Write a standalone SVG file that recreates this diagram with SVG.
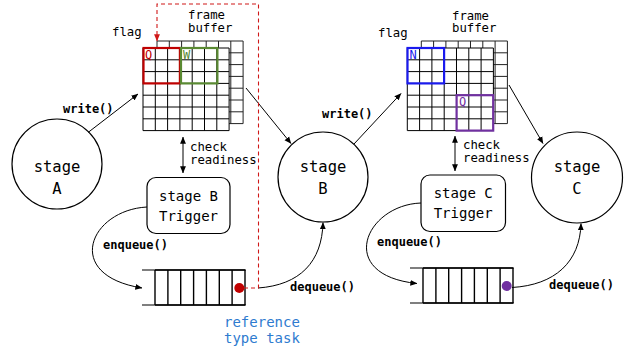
<svg xmlns="http://www.w3.org/2000/svg" xmlns:xlink="http://www.w3.org/1999/xlink" width="627" height="352" viewBox="0 0 627 352">
  <style>
    text { font-family: "DejaVu Sans Mono", "Liberation Mono", monospace; fill: #000; }
    .lbl { font-size: 12.3px; }
    .op { font-size: 12px; font-weight: bold; }
    .big { font-size: 15.5px; }
    .box { font-size: 14px; }
    .ref { font-size: 14px; fill: #2e7bcf; }
    .flagtxt { font-size: 12px; }
    .circ { fill: #fff; stroke: #000; stroke-width: 1.2; }
    .trig { fill: #fff; stroke: #000; stroke-width: 1.2; }
    .grid { fill: #fff; stroke: #000; stroke-width: 1; }
    .gridback { fill: #fff; stroke: #222; stroke-width: 1; }
    .edge { fill: none; stroke: #000; stroke-width: 1; }
    .dash { fill: none; stroke: #d01818; stroke-width: 1.1; stroke-dasharray: 4 3; }
    .qrail { stroke: #555; stroke-width: 1.3; }
    .qcell { stroke: #000; stroke-width: 1.4; fill: none; }
  </style>
  <defs>
    <marker id="ah" viewBox="0 0 10 10" refX="9.5" refY="5" markerWidth="7" markerHeight="7" markerUnits="userSpaceOnUse" orient="auto-start-reverse">
      <path d="M0,0.8 L10,5 L0,9.2 Z" fill="#000"/>
    </marker>
    <marker id="ahr" viewBox="0 0 10 10" refX="9.5" refY="5" markerWidth="7" markerHeight="7" markerUnits="userSpaceOnUse" orient="auto">
      <path d="M0,0.8 L10,5 L0,9.2 Z" fill="#d01818"/>
    </marker>
    <!-- 7x7 frame grid, 12.3 x 11.8 cells -->
    <path id="gridlines" d="M0,0H86.1V82.6H0Z M12.3,0V82.6 M24.6,0V82.6 M36.9,0V82.6 M49.2,0V82.6 M61.5,0V82.6 M73.8,0V82.6 M0,11.8H86.1 M0,23.6H86.1 M0,35.4H86.1 M0,47.2H86.1 M0,59H86.1 M0,70.8H86.1"/>
    <!-- queue with 7 slots -->
    <g id="queue">
      <line class="qrail" x1="0" y1="0" x2="104" y2="0"/>
      <line class="qrail" x1="0" y1="35" x2="104" y2="35"/>
      <path class="qcell" d="M13,0V35 M25.9,0V35 M38.7,0V35 M51.6,0V35 M64.4,0V35 M77.3,0V35 M90.1,0V35 M103,0V35 M13,0H103 M13,35H103"/>
    </g>
  </defs>

  <rect width="627" height="352" fill="#fff"/>

  <!-- frame buffer of stage B -->
  <g id="buffer-b">
    <use xlink:href="#gridlines" class="gridback" transform="translate(157,41)"/>
    <use xlink:href="#gridlines" class="grid" transform="translate(143,48)"/>
    <rect x="143.5" y="48" width="36.4" height="35.4" fill="none" stroke="#c00000" stroke-width="2.2"/>
    <rect x="181" y="48" width="36.4" height="35.4" fill="none" stroke="#5a8a32" stroke-width="2.2"/>
    <text class="flagtxt" x="145" y="58.5" style="fill:#c00000">Q</text>
    <text class="flagtxt" x="183" y="58.5" style="fill:#5a8a32">W</text>
    <text class="lbl" x="112" y="36">flag</text>
    <text class="lbl" x="188" y="19">frame</text>
    <text class="lbl" x="188" y="32">buffer</text>
  </g>

  <!-- frame buffer of stage C -->
  <g id="buffer-c">
    <use xlink:href="#gridlines" class="gridback" transform="translate(421.3,41)"/>
    <use xlink:href="#gridlines" class="grid" transform="translate(407.3,48)"/>
    <rect x="407.5" y="48" width="36.6" height="35.4" fill="none" stroke="#1a1aee" stroke-width="2.2"/>
    <rect x="456.6" y="95.2" width="36.6" height="35.4" fill="none" stroke="#7030a0" stroke-width="2.2"/>
    <text class="flagtxt" x="409.5" y="58.5" style="fill:#1a1aee">N</text>
    <text class="flagtxt" x="459" y="106" style="fill:#7030a0">Q</text>
    <text class="lbl" x="378" y="36.5">flag</text>
    <text class="lbl" x="452" y="19.5">frame</text>
    <text class="lbl" x="452" y="32">buffer</text>
  </g>

  <!-- pipeline stages -->
  <g id="stage-a">
    <circle class="circ" cx="57" cy="164" r="45"/>
    <text class="big" x="57" y="172" text-anchor="middle">stage</text>
    <text class="big" x="57" y="194" text-anchor="middle">A</text>
  </g>
  <g id="stage-b">
    <circle class="circ" cx="323" cy="177" r="45"/>
    <text class="big" x="323" y="172" text-anchor="middle">stage</text>
    <text class="big" x="323" y="194" text-anchor="middle">B</text>
  </g>
  <g id="stage-c">
    <circle class="circ" cx="577" cy="177.5" r="45.5"/>
    <text class="big" x="577" y="172" text-anchor="middle">stage</text>
    <text class="big" x="577" y="194" text-anchor="middle">C</text>
  </g>

  <!-- triggers -->
  <g id="trigger-b">
    <rect class="trig" x="147" y="177.5" width="83" height="56" rx="9"/>
    <text class="box" x="188.5" y="201" text-anchor="middle">stage B</text>
    <text class="box" x="188.5" y="221" text-anchor="middle">Trigger</text>
  </g>
  <g id="trigger-c">
    <rect class="trig" x="421" y="175" width="84.5" height="56.5" rx="9"/>
    <text class="box" x="463.2" y="198" text-anchor="middle">stage C</text>
    <text class="box" x="463.2" y="218" text-anchor="middle">Trigger</text>
  </g>

  <!-- task queues -->
  <g id="queue-b">
    <use xlink:href="#queue" transform="translate(142,270)"/>
    <circle cx="239.3" cy="288" r="5" fill="#c00000"/>
  </g>
  <g id="queue-c">
    <use xlink:href="#queue" transform="translate(410,268)"/>
    <circle cx="506.7" cy="286" r="5" fill="#7030a0"/>
  </g>

  <!-- connectors -->
  <g id="connectors">
    <line class="edge" x1="88" y1="132.5" x2="138" y2="94" marker-end="url(#ah)"/>
    <line class="edge" x1="246" y1="88" x2="291" y2="143.5" marker-end="url(#ah)"/>
    <line class="edge" x1="354" y1="144" x2="401" y2="93.5" marker-end="url(#ah)"/>
    <line class="edge" x1="509" y1="85" x2="543" y2="143.5" marker-end="url(#ah)"/>
    <line class="edge" x1="183" y1="137" x2="183" y2="173" marker-start="url(#ah)" marker-end="url(#ah)"/>
    <line class="edge" x1="455" y1="136" x2="455" y2="171" marker-start="url(#ah)" marker-end="url(#ah)"/>
    <path class="edge" d="M147,207 C90,210 62,275 142,288" marker-end="url(#ah)"/>
    <path class="edge" d="M421,203 C365,205 335,275 417,283.5" marker-end="url(#ah)"/>
    <path class="edge" d="M258,288 C300,285 322,262 323,222.5" marker-end="url(#ah)"/>
    <path class="edge" d="M512,287.5 C555,285 580,262 581,223.5" marker-end="url(#ah)"/>
    <path class="dash" d="M244,288 H258.5 V4 H157 V41" marker-end="url(#ahr)"/>
  </g>

  <!-- connector labels -->
  <text class="op" x="63" y="113">write()</text>
  <text class="op" x="322" y="118">write()</text>
  <text class="lbl" x="190" y="151">check</text>
  <text class="lbl" x="190" y="164">readiness</text>
  <text class="lbl" x="463" y="149">check</text>
  <text class="lbl" x="463" y="162">readiness</text>
  <text class="op" x="103" y="249">enqueue()</text>
  <text class="op" x="377" y="246">enqueue()</text>
  <text class="op" x="290" y="291">dequeue()</text>
  <text class="op" x="549" y="289">dequeue()</text>
  <text class="ref" x="224" y="327">reference</text>
  <text class="ref" x="224" y="343">type task</text>
</svg>
